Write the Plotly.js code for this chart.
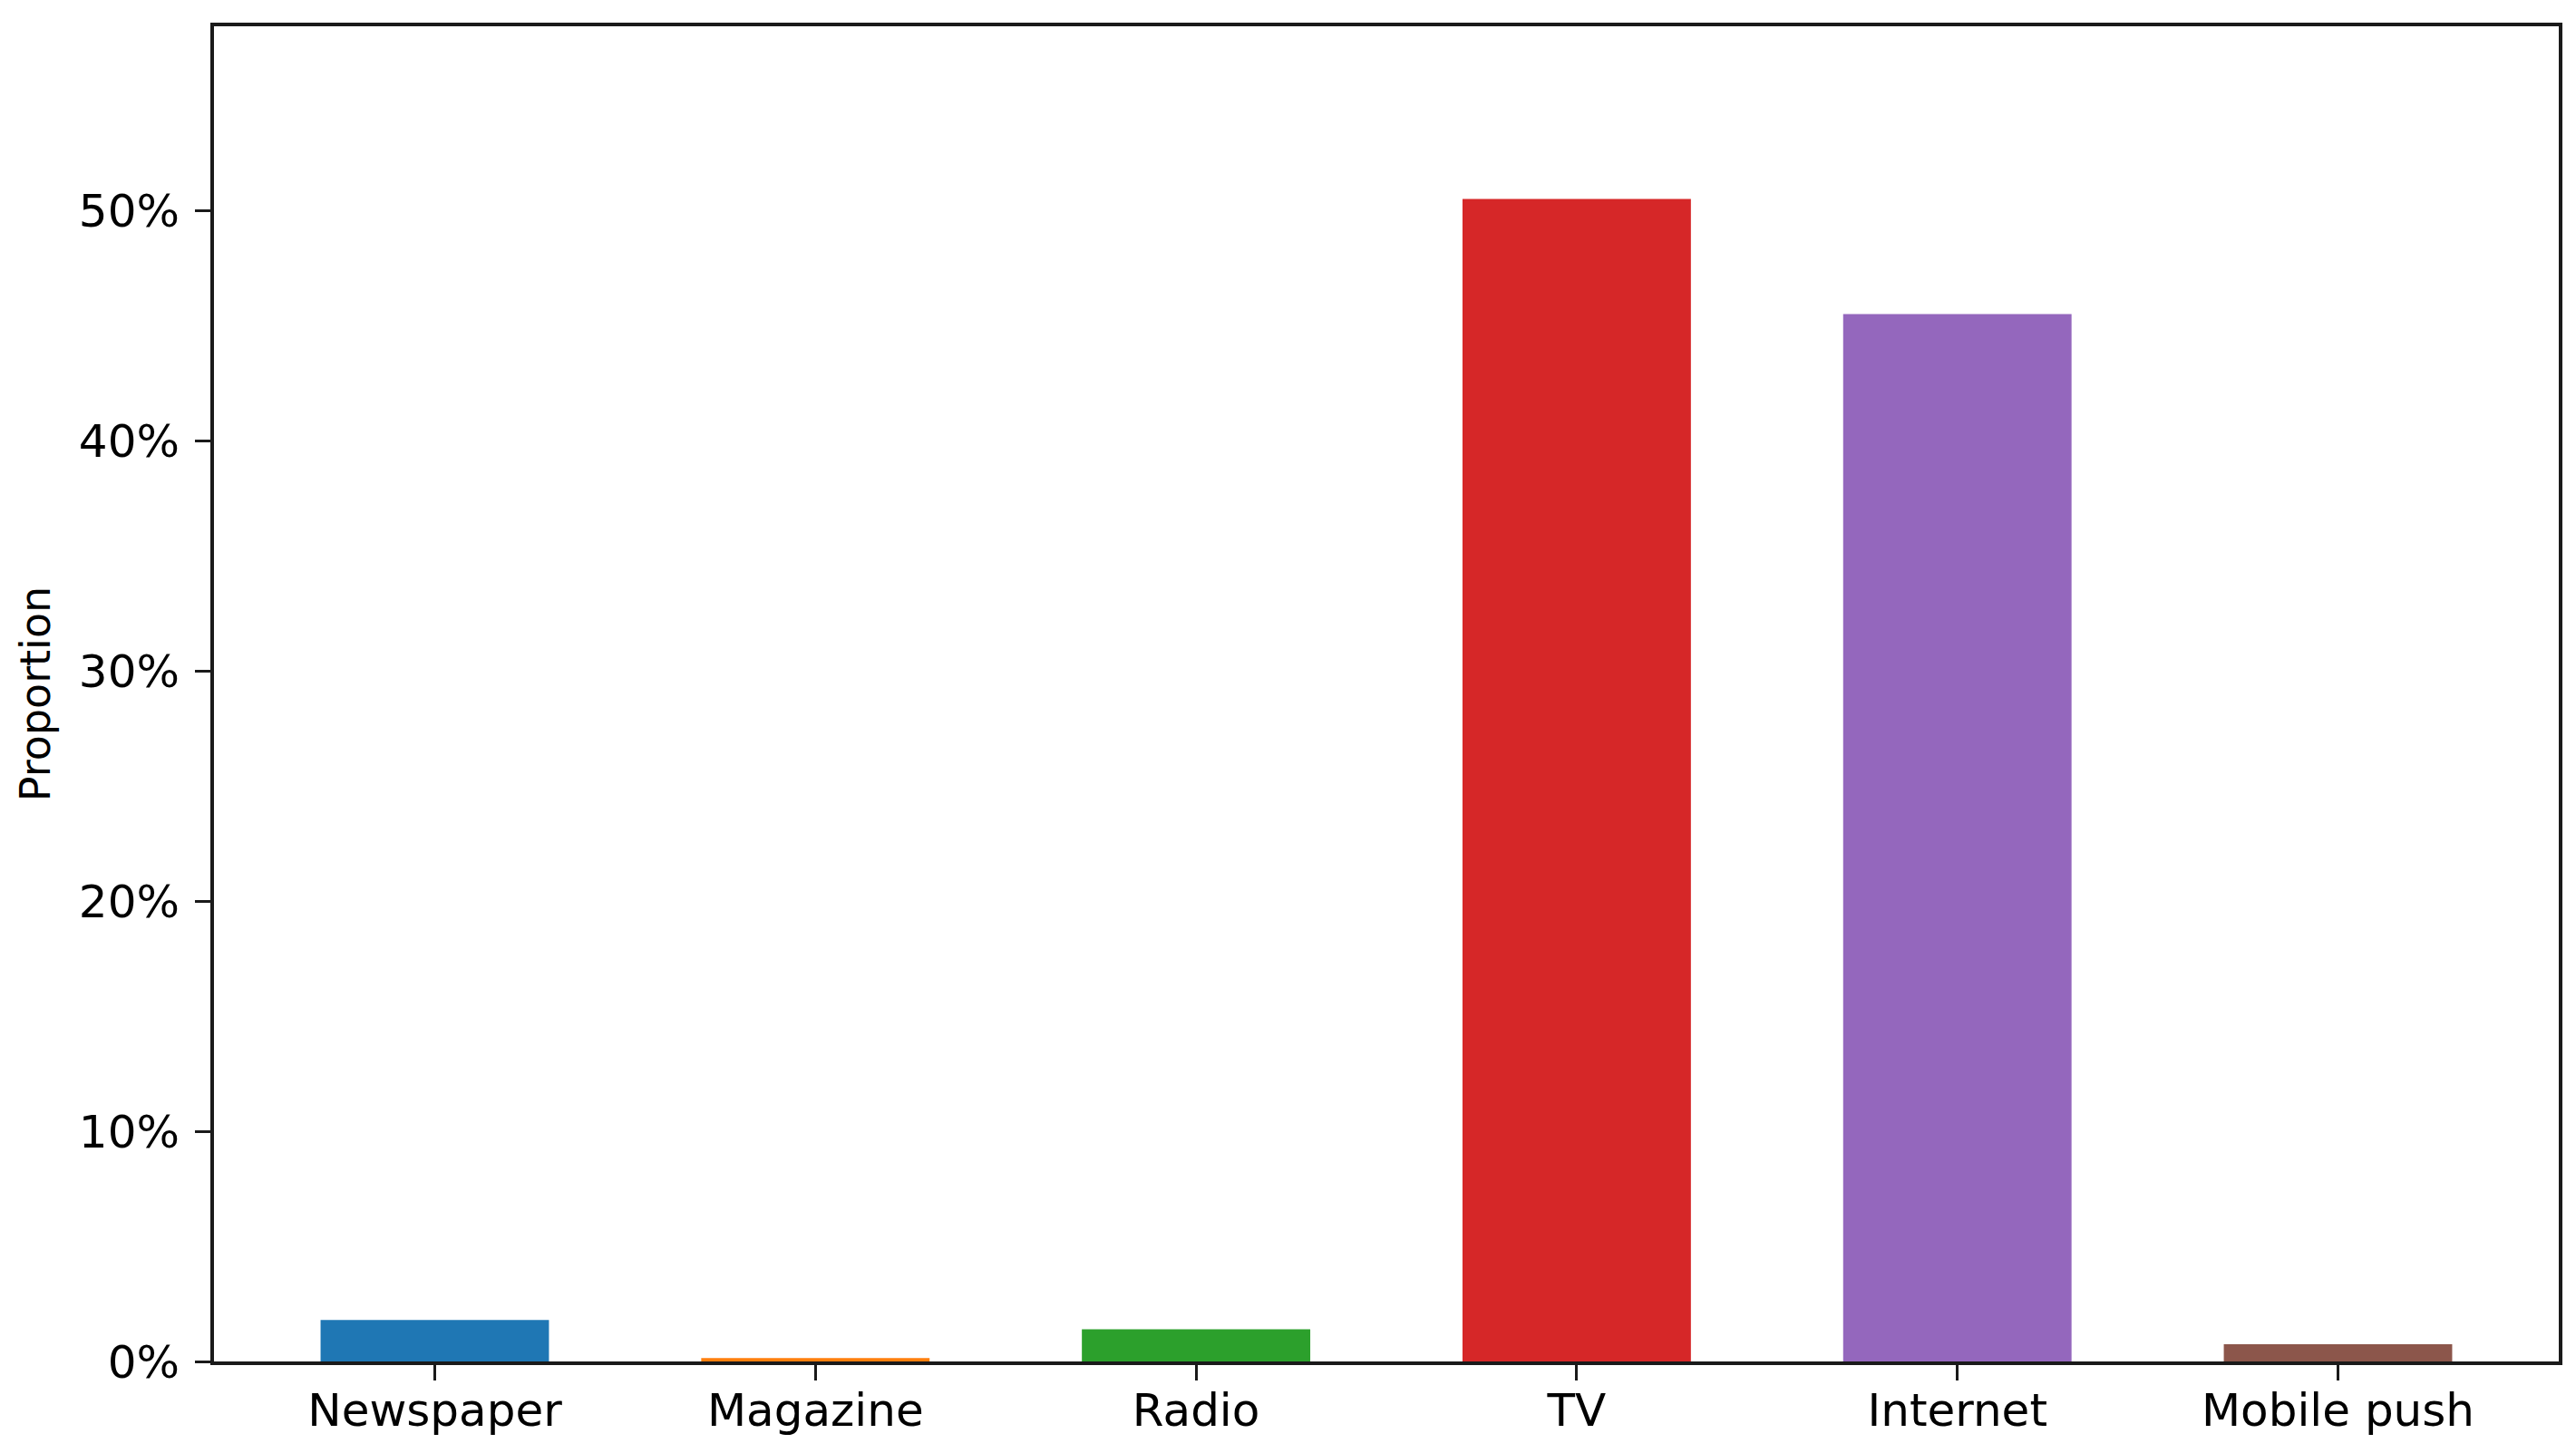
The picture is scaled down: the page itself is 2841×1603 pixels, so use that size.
<!DOCTYPE html>
<html>
<head>
<meta charset="utf-8">
<script src="https://cdn.plot.ly/plotly-3.0.1.min.js"></script>
<style>
  html, body { margin: 0; padding: 0; background: #ffffff; }
  #chart { width: 2841px; height: 1603px; }
</style>
</head>
<body>
<div id="chart"></div>
<script>
const categories = ["Newspaper", "Magazine", "Radio", "TV", "Internet", "Mobile push"];
const proportions = [1.8, 0.15, 1.4, 50.5, 45.5, 0.75];
const barColors = ["#1f77b4", "#ff7f0e", "#2ca02c", "#d62728", "#9467bd", "#8c564b"];
const yTickValues = [0, 10, 20, 30, 40, 50];
const yTickLabels = ["0%", "10%", "20%", "30%", "40%", "50%"];

const trace = {
  type: "bar",
  x: categories.map((c, i) => i),
  y: proportions,
  width: 0.6,
  marker: { color: barColors, line: { width: 0 } },
  hoverinfo: "x+y"
};

const layout = {
  width: 2841,
  height: 1603,
  margin: { l: 236, r: 19, t: 29, b: 101, pad: 0 },
  paper_bgcolor: "#ffffff",
  plot_bgcolor: "#ffffff",
  showlegend: false,
  font: { family: "DejaVu Sans", size: 50, color: "#000000" },
  xaxis: {
    range: [-0.58, 5.58],
    tickmode: "array",
    tickvals: categories.map((c, i) => i),
    ticktext: categories,
    showgrid: false,
    zeroline: false,
    showline: true,
    linecolor: "#1a1a1a",
    linewidth: 4,
    mirror: true,
    ticks: "outside",
    ticklen: 17,
    tickwidth: 3,
    tickcolor: "#1a1a1a",
    ticklabelstandoff: -10,
    tickfont: { family: "DejaVu Sans", size: 50, color: "#000000" }
  },
  yaxis: {
    range: [0, 58],
    tickmode: "array",
    tickvals: yTickValues,
    ticktext: yTickLabels,
    showgrid: false,
    zeroline: false,
    showline: true,
    linecolor: "#1a1a1a",
    linewidth: 4,
    mirror: true,
    ticks: "outside",
    ticklen: 17,
    tickwidth: 3,
    tickcolor: "#1a1a1a",
    ticklabelstandoff: 7,
    tickfont: { family: "DejaVu Sans", size: 50, color: "#000000" },
    title: { text: "Proportion", font: { family: "DejaVu Sans", size: 46, color: "#000000" }, standoff: 18 }
  }
};

Plotly.newPlot("chart", [trace], layout, { displayModeBar: false, staticPlot: true });
</script>
</body>
</html>
